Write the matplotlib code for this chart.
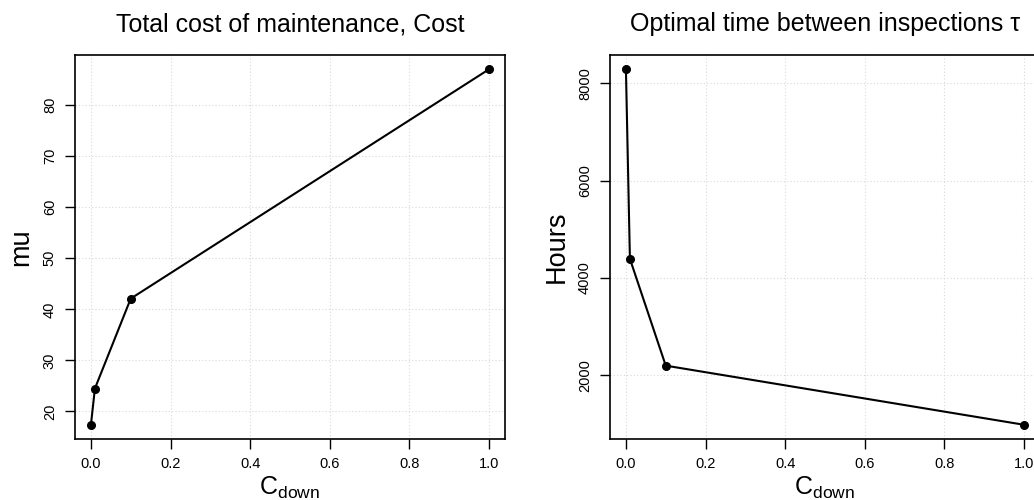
import matplotlib
matplotlib.use("Agg")
import matplotlib.pyplot as plt

plt.rcParams['font.family'] = ['Liberation Sans', 'DejaVu Sans']
plt.rcParams['mathtext.fontset'] = 'custom'
plt.rcParams['mathtext.rm'] = 'Liberation Sans'
plt.rcParams['mathtext.it'] = 'Liberation Sans'

# data
c_down = [0.0, 0.01, 0.1, 1.0]
cost = [17.4, 24.5, 42.1, 87.0]
tau_hours = [8290, 4395, 2200, 985]

x_ticks = [0.0, 0.2, 0.4, 0.6, 0.8, 1.0]
cost_ticks = [20, 30, 40, 50, 60, 70, 80]
hours_ticks = [2000, 4000, 6000, 8000]

fig = plt.figure(figsize=(10.34, 5), dpi=100)
ax1 = fig.add_axes([75 / 1034, 61 / 500, 430 / 1034, 384 / 500])
ax2 = fig.add_axes([610 / 1034, 61 / 500, 430 / 1034, 384 / 500])


def r_style(ax, x, y, yticks, title, ylabel):
    ax.plot(x, y, color='black', lw=1.5, marker='o', ms=5.5, zorder=3)
    r = max(y) - min(y)
    ax.set_ylim(min(y) - 0.04 * r, max(y) + 0.04 * r)
    ax.set_xlim(-0.04, 1.04)
    ax.set_xticks(x_ticks)
    ax.set_xticklabels([f'{t:.1f}' for t in x_ticks])
    ax.set_yticks(yticks)
    ax.set_yticklabels([str(t) for t in yticks], rotation=90, va='center')
    ax.tick_params(length=7, width=1, labelsize=10.5, pad=6)
    ax.grid(True, color='#d9d9d9', linestyle=(0, (1, 2)), linewidth=0.8)
    ax.set_axisbelow(True)
    for s in ax.spines.values():
        s.set_linewidth(1.2)
    ax.set_title(title, fontsize=18, pad=17)
    ax.set_ylabel(ylabel, fontsize=19.5, labelpad=6)
    ax.set_xlabel(r'C$_{\mathrm{down}}$', fontsize=18, labelpad=3)


r_style(ax1, c_down, cost, cost_ticks, 'Total cost of maintenance, Cost', 'mu')
r_style(ax2, c_down, tau_hours, hours_ticks, 'Optimal time between inspections \u03c4', 'Hours')

fig.savefig('out.png', dpi=100)
